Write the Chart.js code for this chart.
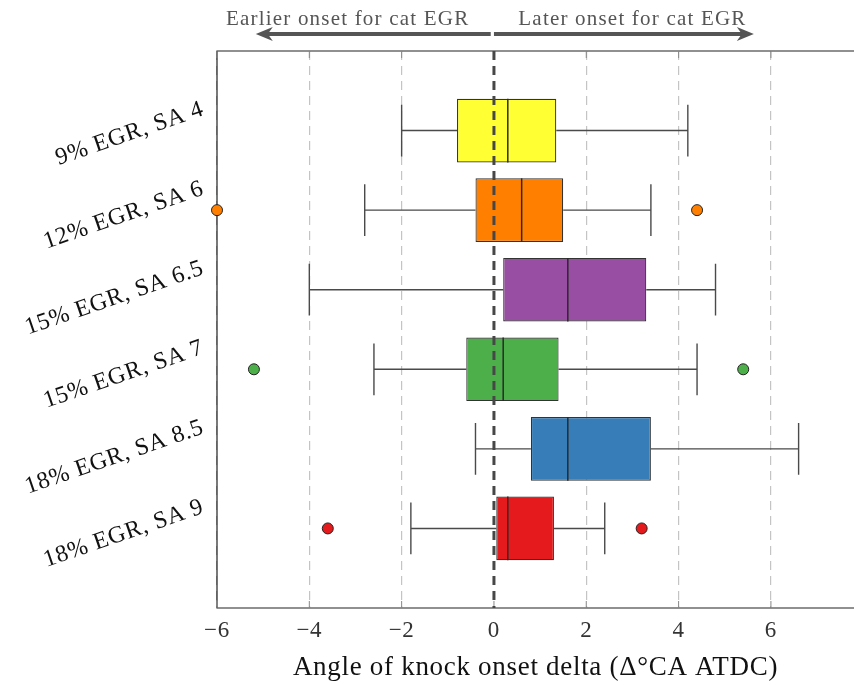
<!DOCTYPE html>
<html>
<head>
<meta charset="utf-8">
<script src="https://cdn.jsdelivr.net/npm/chart.js@4.4.0/dist/chart.umd.min.js"></script>
<style>
	body { margin: 0; background: #fff; overflow: hidden; }
	canvas { display: block; }
</style>
</head>
<body>
<canvas id="boxChart" width="854" height="685"></canvas>
<script>

// Datos del grafico
const rowLabels = ['9% EGR, SA 4', '12% EGR, SA 6', '15% EGR, SA 6.5', '15% EGR, SA 7', '18% EGR, SA 8.5', '18% EGR, SA 9'];
const boxColors = ['#ffff33', '#ff7f00', '#984ea3', '#4daf4a', '#377eb8', '#e41a1c'];
const whiskerLow = [-2.0, -2.8, -4.0, -2.6, -0.4, -1.8];
const q1 = [-0.8, -0.4, 0.2, -0.6, 0.8, 0.05];
const median = [0.3, 0.6, 1.6, 0.2, 1.6, 0.3];
const q3 = [1.35, 1.5, 3.3, 1.4, 3.4, 1.3];
const whiskerHigh = [4.2, 3.4, 4.8, 4.4, 6.6, 2.4];
const outlierRow = [1, 1, 3, 3, 5, 5];
const outlierVal = [-6.0, 4.4, -5.2, 5.4, -3.6, 3.2];
const xTicks = [-6, -4, -2, 0, 2, 4, 6];

// Anotaciones superiores
const noteText = ['Earlier onset for cat EGR', 'Later onset for cat EGR'];
const noteCenter = [-3.17, 3.0];
const arrowFrom = [-0.07, 0.0];
const arrowTo = [-5.16, 5.63];

const serif = "'Liberation Serif', 'Times New Roman', serif";
const capWidth = 0.65;

const minus = v => v < 0 ? '\u2212' + Math.abs(v) : String(v);

// Bigotes, medianas, linea en cero y flechas
const boxParts = {
	id: 'boxParts',
	beforeDraw(chart){
		chart.ctx.letterSpacing = '0.7px';
	},
	beforeDatasetsDraw(chart){
		const {ctx, chartArea: a, scales: {x, y}} = chart;
		ctx.save();

		// marco
		ctx.strokeStyle = '#222';
		ctx.lineWidth = 1.2;
		ctx.beginPath();
		ctx.moveTo(a.right, a.top);
		ctx.lineTo(a.left, a.top);
		ctx.lineTo(a.left, a.bottom);
		ctx.lineTo(a.right, a.bottom);
		ctx.stroke();

		// ticks hacia adentro
		ctx.strokeStyle = '#888';
		ctx.lineWidth = 1;
		xTicks.forEach(v => {
			const px = x.getPixelForValue(v);
			ctx.beginPath();
			ctx.moveTo(px, a.bottom); ctx.lineTo(px, a.bottom - 7);
			ctx.moveTo(px, a.top); ctx.lineTo(px, a.top + 7);
			ctx.stroke();
		});

		// bigotes
		ctx.strokeStyle = '#4a4a4a';
		ctx.lineWidth = 1.4;
		rowLabels.forEach((lab, i) => {
			const yc = y.getPixelForValue(i);
			const h = Math.abs(y.getPixelForValue(i + capWidth / 2) - yc);
			const lo = x.getPixelForValue(whiskerLow[i]);
			const hi = x.getPixelForValue(whiskerHigh[i]);
			const b1 = x.getPixelForValue(q1[i]);
			const b3 = x.getPixelForValue(q3[i]);
			ctx.beginPath();
			ctx.moveTo(lo, yc); ctx.lineTo(b1, yc);
			ctx.moveTo(b3, yc); ctx.lineTo(hi, yc);
			ctx.moveTo(lo, yc - h); ctx.lineTo(lo, yc + h);
			ctx.moveTo(hi, yc - h); ctx.lineTo(hi, yc + h);
			ctx.stroke();
		});
		ctx.restore();
	},
	afterDatasetDraw(chart, args){
		if(args.index !== 0) return;
		const {ctx, chartArea: a, scales: {x, y}} = chart;
		ctx.save();

		// medianas
		ctx.strokeStyle = '#2a2a2a';
		ctx.lineWidth = 1.5;
		rowLabels.forEach((lab, i) => {
			const yc = y.getPixelForValue(i);
			const h = Math.abs(y.getPixelForValue(i + 0.4) - yc);
			const m = x.getPixelForValue(median[i]);
			ctx.beginPath();
			ctx.moveTo(m, yc - h); ctx.lineTo(m, yc + h);
			ctx.stroke();
		});

		// linea en cero
		const x0 = x.getPixelForValue(0);
		ctx.strokeStyle = '#474747';
		ctx.lineWidth = 3;
		ctx.setLineDash([9, 6]);
		ctx.beginPath();
		ctx.moveTo(x0, a.top); ctx.lineTo(x0, a.bottom);
		ctx.stroke();
		ctx.restore();
	},
	afterDraw(chart){
		const {ctx, scales: {x}} = chart;
		ctx.save();
		ctx.fillStyle = '#555';
		ctx.strokeStyle = '#555';
		ctx.font = '21px ' + serif;
		ctx.letterSpacing = '1.2px';
		ctx.textAlign = 'center';
		ctx.textBaseline = 'middle';
		noteText.forEach((t, k) => {
			ctx.fillText(t, x.getPixelForValue(noteCenter[k]), 19);
			const from = x.getPixelForValue(arrowFrom[k]);
			const to = x.getPixelForValue(arrowTo[k]);
			const dir = Math.sign(to - from);
			const yA = 34;
			ctx.lineWidth = 4;
			ctx.beginPath();
			ctx.moveTo(from, yA); ctx.lineTo(to - dir * 10, yA);
			ctx.stroke();
			ctx.beginPath();
			ctx.moveTo(to, yA);
			ctx.lineTo(to - dir * 17, yA - 7);
			ctx.lineTo(to - dir * 12, yA);
			ctx.lineTo(to - dir * 17, yA + 7);
			ctx.closePath();
			ctx.fill();
		});
		ctx.restore();
	}
};

const ctxBox = document.getElementById('boxChart').getContext('2d');

new Chart(ctxBox, {
	type: 'bar',
	data: {
		datasets: [
			{
				type: 'bar',
				indexAxis: 'y',
				data: rowLabels.map((lab, i) => ({x: [q1[i], q3[i]], y: i})),
				backgroundColor: boxColors,
				borderColor: '#333',
				borderWidth: 1.2,
				borderSkipped: false,
				barPercentage: 1,
				categoryPercentage: 0.8,
				order: 2
			},
			{
				type: 'scatter',
				data: outlierVal.map((v, k) => ({x: v, y: outlierRow[k]})),
				pointRadius: 5.5,
				pointBackgroundColor: outlierRow.map(r => boxColors[r]),
				pointBorderColor: '#222',
				pointBorderWidth: 1,
				clip: false,
				order: 1
			}
		]
	},
	options: {
		responsive: false,
		animation: false,
		indexAxis: 'y',
		layout: { autoPadding: false, padding: { top: 51, right: 0, left: 0, bottom: 0 } },
		plugins: {
			legend: { display: false },
			tooltip: { enabled: false }
		},
		scales: {
			x: {
				type: 'linear',
				min: -6,
				max: 7.8,
				offset: false,
				afterBuildTicks: s => { s.ticks = xTicks.map(v => ({value: v})); },
				afterFit: s => { s.height = 77; s.paddingLeft = 0; s.paddingRight = 0; },
				grid: {
					color: c => (c.tick && c.tick.value === 0) ? 'rgba(0,0,0,0)' : '#c4c4c4',
					lineWidth: 1.2,
					drawTicks: false,
					offset: false
				},
				border: { display: false, dash: [9, 6] },
				ticks: {
					padding: 9,
					color: '#333',
					font: { family: serif, size: 23 },
					callback: v => minus(v)
				},
				title: {
					display: true,
					text: 'Angle of knock onset delta (\u0394\u00b0CA ATDC)',
					color: '#111',
					font: { family: serif, size: 27 },
					padding: { top: 0, bottom: 1 }
				}
			},
			y: {
				type: 'linear',
				min: -1,
				max: 6,
				reverse: true,
				offset: false,
				afterBuildTicks: s => { s.ticks = rowLabels.map((lab, i) => ({value: i})); },
				afterFit: s => { s.width = 217; s.paddingTop = 0; s.paddingBottom = 0; },
				grid: { display: false, drawTicks: false, offset: false },
				border: { display: false },
				ticks: {
					autoSkip: false,
					minRotation: 19,
					maxRotation: 19,
					labelOffset: -22,
					padding: 14,
					color: '#111',
					font: { family: serif, size: 24 },
					callback: v => rowLabels[v]
				}
			}
		}
	},
	plugins: [boxParts]
});

</script>
</body>
</html>
